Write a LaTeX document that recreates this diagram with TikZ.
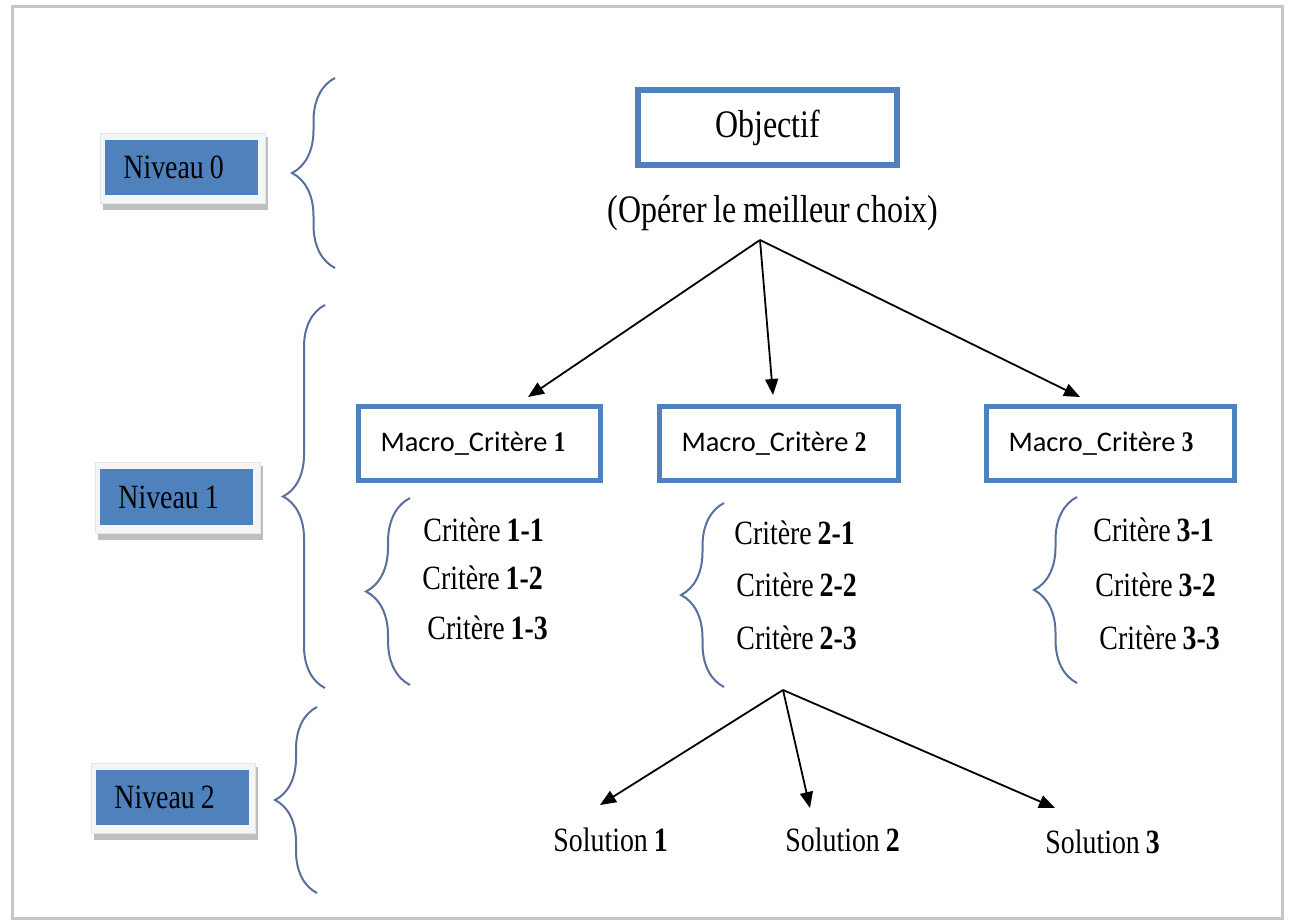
\documentclass[tikz,border=0pt]{standalone}
\usepackage{fontspec}
\setmainfont[FakeStretch=0.82,WordSpace=0.85]{Liberation Serif}
\newfontfamily\macrofont{Carlito}
\usetikzlibrary{arrows.meta,decorations.pathreplacing}
\definecolor{boxblue}{RGB}{79,129,189}
\definecolor{bracecol}{RGB}{88,112,155}
\newcommand{\leftin}[2]{\makebox[#1][l]{#2}}
\begin{document}
\begin{tikzpicture}[x=0.5pt,y=-0.5pt,
  lvlbox/.style={fill=boxblue, anchor=west, inner xsep=9pt, inner ysep=0pt,
    minimum height=27.5pt, font=\fontsize{17}{20}\selectfont},
  macrobox/.style={draw=boxblue, line width=2.5pt, anchor=west, inner xsep=11.25pt, inner ysep=0pt,
    minimum height=37pt, font=\macrofont\fontsize{14.2}{17}\selectfont},
  crit/.style={anchor=west, inner sep=0pt, font=\fontsize{17}{20}\selectfont},
  arr/.style={-{Triangle[length=8pt,width=6.5pt]}, line width=0.9pt},
  bracestyle/.style={draw=bracecol, line width=1pt, decorate, decoration={brace, amplitude=#1}},
  shadowdark/.style={fill=gray!50},
  shadowlight/.style={fill=gray!8, draw=gray!20, line width=0.3pt}
]
\useasboundingbox (0,0) rectangle (1290,920);
\fill[white] (0,0) rectangle (1290,920);
% frame
\draw[gray!45, line width=1.5pt] (12,7) rectangle (1282,918);

% level boxes with bevel shadow
\fill[shadowdark] (103,137) rectangle (268,210);
\fill[shadowlight] (100,133) rectangle (265,203);
\node[lvlbox] (n0) at (105,167.5) {\leftin{58.5pt}{Niveau 0}};

\fill[shadowdark] (98,466) rectangle (263,540);
\fill[shadowlight] (95,462) rectangle (260,533);
\node[lvlbox, minimum height=28pt] (n1) at (100,497) {\leftin{58.5pt}{Niveau 1}};

\fill[shadowdark] (94,767) rectangle (258,840);
\fill[shadowlight] (91,763) rectangle (255,833);
\node[lvlbox] (n2) at (96,797.5) {\leftin{58.5pt}{Niveau 2}};

% level braces
\draw[bracestyle=21.5pt] (335,268) -- (335,78);
\draw[bracestyle=21pt] (325,688) -- (325,305);
\draw[bracestyle=21pt] (317,893) -- (317,707);

% objective
\node[draw=boxblue, line width=3pt, minimum width=129.5pt, minimum height=37.5pt, inner sep=0pt,
  font=\fontsize{19.5}{22}\selectfont] (obj) at (767.5,127.5) {Objectif};
\node[inner sep=0pt, font=\fontsize{19.5}{22}\selectfont] (goal) at (773,213) {(Opérer le meilleur choix)};

% macro criteria
\node[macrobox] (m1) at (355.5,443.5) {\leftin{98.5pt}{Macro\_Critère {\rmfamily\bfseries 1}}};
\node[macrobox] (m2) at (656.5,443.5) {\leftin{97pt}{Macro\_Critère {\rmfamily\bfseries 2}}};
\node[macrobox] (m3) at (983.5,443.5) {\leftin{101.5pt}{Macro\_Critère {\rmfamily\bfseries 3}}};

% arrows from objective
\coordinate (apex) at (760,240);
\coordinate (t1) at (528,397);
\coordinate (t2) at (773,395);
\coordinate (t3) at (1080,397);
\draw[arr] (apex) -- (t1);
\draw[arr] (apex) -- (t2);
\draw[arr] (apex) -- (t3);

% criteria braces
\draw[bracestyle=22pt] (410,685) -- (410,498);
\draw[bracestyle=21.5pt] (724,687) -- (724,503);
\draw[bracestyle=21.5pt] (1077,683) -- (1077,497);

% criteria
\node[crit] (c11) at (423,530) {Critère \textbf{1-1}};
\node[crit] (c12) at (422,578) {Critère \textbf{1-2}};
\node[crit] (c13) at (427,628) {Critère \textbf{1-3}};
\node[crit] (c21) at (734,533) {Critère \textbf{2-1}};
\node[crit] (c22) at (736,585) {Critère \textbf{2-2}};
\node[crit] (c23) at (736,638) {Critère \textbf{2-3}};
\node[crit] (c31) at (1093,530) {Critère \textbf{3-1}};
\node[crit] (c32) at (1095,585) {Critère \textbf{3-2}};
\node[crit] (c33) at (1099,638) {Critère \textbf{3-3}};

% solutions
\coordinate (apex2) at (783,690);
\coordinate (s1t) at (600,805);
\coordinate (s2t) at (810,808);
\coordinate (s3t) at (1055,808);
\draw[arr] (apex2) -- (s1t);
\draw[arr] (apex2) -- (s2t);
\draw[arr] (apex2) -- (s3t);
\node[crit] (s1) at (553,840) {Solution \textbf{1}};
\node[crit] (s2) at (785,840) {Solution \textbf{2}};
\node[crit] (s3) at (1045,842) {Solution \textbf{3}};
\end{tikzpicture}
\end{document}
